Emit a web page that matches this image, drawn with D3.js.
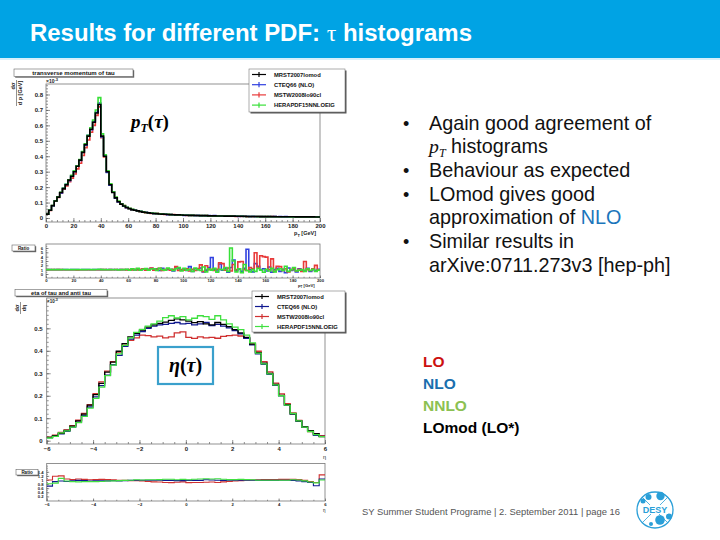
<!DOCTYPE html>
<html><head><meta charset="utf-8">
<script src="https://cdn.jsdelivr.net/npm/d3@7"></script>
<style>body{margin:0;background:#fff}svg{display:block}</style>
</head><body><svg id="c" width="720" height="540"></svg>
<script>
// ---------------- DATA ----------------
const seriesNames = ["MRST2007lomod","CTEQ66 (NLO)","MSTW2008lo90cl","HERAPDF15NNLOEIG"];
const ptRange = [0, 200];      // GeV, 2 GeV bins
const etaRange = [-6, 6];      // 0.25 bins
const ptMRST = [0.025,0.050,0.080,0.110,0.135,0.165,0.190,0.215,0.245,0.270,
0.300,0.335,0.375,0.425,0.475,0.530,0.575,0.620,0.680,0.735,
0.530,0.400,0.300,0.215,0.165,0.130,0.105,0.090,0.078,0.068,
0.060,0.054,0.050,0.046,0.042,0.038,0.036,0.033,0.031,0.029,
0.028,0.026,0.025,0.024,0.023,0.022,0.021,0.020,0.020,0.019,
0.018,0.018,0.017,0.017,0.016,0.016,0.015,0.015,0.015,0.014,
0.014,0.014,0.013,0.013,0.013,0.012,0.012,0.012,0.012,0.011,
0.011,0.011,0.011,0.010,0.010,0.010,0.010,0.010,0.009,0.009,
0.009,0.009,0.009,0.009,0.008,0.008,0.008,0.008,0.008,0.008,
0.008,0.007,0.007,0.007,0.007,0.007,0.007,0.007,0.006,0.006];
const ptCTEQ = [0.024,0.052,0.078,0.112,0.138,0.163,0.192,0.218,0.242,0.272,
0.302,0.338,0.372,0.428,0.472,0.535,0.572,0.625,0.685,0.745,
0.525,0.405,0.295,0.212,0.168,0.128,0.104,0.092,0.077,0.067,
0.061,0.053,0.051,0.045,0.043,0.037,0.037,0.032,0.032,0.028,
0.027,0.027,0.024,0.025,0.022,0.023,0.020,0.021,0.019,0.020,
0.017,0.019,0.016,0.018,0.015,0.017,0.014,0.016,0.014,0.015,
0.013,0.015,0.012,0.014,0.012,0.013,0.011,0.013,0.011,0.012,
0.010,0.012,0.010,0.011,0.009,0.011,0.009,0.010,0.009,0.010,
0.008,0.010,0.008,0.009,0.008,0.009,0.007,0.009,0.007,0.008,
0.007,0.008,0.007,0.008,0.006,0.008,0.006,0.007,0.006,0.007];
const ptMSTW = [0.025,0.049,0.079,0.108,0.133,0.160,0.186,0.208,0.235,0.258,
0.285,0.318,0.355,0.405,0.455,0.505,0.555,0.600,0.665,0.720,
0.520,0.395,0.298,0.218,0.170,0.132,0.106,0.090,0.080,0.066,
0.062,0.052,0.052,0.046,0.041,0.039,0.035,0.034,0.030,0.028,
0.029,0.026,0.026,0.023,0.024,0.021,0.022,0.019,0.021,0.018,
0.019,0.017,0.018,0.016,0.017,0.015,0.016,0.014,0.015,0.014,
0.014,0.013,0.014,0.012,0.013,0.011,0.012,0.011,0.012,0.010,
0.011,0.010,0.011,0.009,0.010,0.009,0.010,0.009,0.009,0.008,
0.009,0.008,0.009,0.008,0.008,0.007,0.008,0.007,0.008,0.007,
0.007,0.007,0.007,0.006,0.007,0.006,0.007,0.006,0.006,0.006];
const ptHERA = [0.026,0.051,0.081,0.111,0.137,0.167,0.193,0.219,0.248,0.276,
0.305,0.338,0.378,0.430,0.480,0.535,0.585,0.635,0.700,0.780,
0.545,0.410,0.305,0.222,0.170,0.135,0.110,0.092,0.080,0.070,
0.062,0.056,0.050,0.047,0.043,0.040,0.036,0.034,0.032,0.030,
0.028,0.027,0.025,0.024,0.024,0.022,0.021,0.021,0.020,0.019,
0.018,0.018,0.017,0.017,0.016,0.016,0.015,0.015,0.015,0.014,
0.014,0.014,0.013,0.013,0.013,0.012,0.012,0.012,0.011,0.011,
0.011,0.011,0.010,0.010,0.010,0.010,0.010,0.009,0.009,0.009,
0.009,0.009,0.008,0.008,0.008,0.008,0.008,0.008,0.008,0.007,
0.007,0.007,0.007,0.007,0.007,0.007,0.006,0.006,0.006,0.006];
const ratioPtCTEQ = [1.00,1.02,0.98,1.00,1.01,0.99,1.00,1.02,0.99,1.00,
1.01,1.00,0.99,1.00,1.01,1.00,0.99,1.00,1.01,1.02,
1.00,0.98,1.01,1.00,1.03,0.97,1.00,1.02,0.99,1.05,
0.95,1.08,0.96,1.10,0.92,1.15,0.90,1.10,1.30,0.90,
1.20,0.80,1.30,0.90,1.10,1.00,0.70,1.40,1.20,0.90,
1.10,0.80,1.70,0.60,1.20,1.00,1.40,0.50,0.90,1.50,
3.80,1.00,0.70,2.30,0.90,1.20,0.40,1.50,3.20,0.80,
1.10,0.60,1.30,5.70,1.00,0.50,2.40,1.80,0.90,1.20,
0.70,1.60,0.40,1.00,1.30,0.60,1.10,0.30,1.40,0.80,
1.00,0.50,1.20,0.90,0.70,1.30,0.60,1.00,0.80,1.10];
const ratioPtMSTW = [1.00,0.99,1.01,0.98,1.00,1.00,0.98,0.97,0.99,0.98,
0.97,0.96,0.97,0.98,0.97,0.98,0.99,0.97,0.98,0.99,
1.00,1.01,0.98,1.02,0.99,1.03,0.97,1.00,1.05,0.96,
1.04,0.95,1.10,0.92,1.08,1.20,0.90,1.05,1.40,0.85,
1.10,1.30,0.80,1.00,1.20,0.90,1.10,1.70,0.80,1.00,
0.90,1.20,0.70,1.10,0.80,1.20,2.10,0.60,1.90,1.00,
1.10,0.80,1.10,2.60,2.40,0.90,1.40,0.70,2.20,1.00,
2.80,2.90,1.00,0.80,1.50,1.20,4.90,1.50,4.20,4.00,
3.90,1.00,3.50,0.60,1.80,1.70,0.80,1.20,0.50,1.00,
1.30,0.70,1.10,0.60,2.90,1.00,0.80,1.20,2.00,0.90];
const ratioPtHERA = [1.02,1.00,1.01,1.02,1.00,1.01,1.03,1.02,1.01,1.00,
1.02,1.01,1.00,1.02,1.01,1.03,1.02,1.01,1.03,1.06,
1.00,1.02,0.98,1.00,0.97,1.04,0.96,1.02,1.00,1.10,
0.90,1.20,0.95,1.30,0.85,1.10,1.25,0.90,1.15,1.20,
0.80,1.30,1.00,0.90,1.40,1.10,0.80,1.20,1.50,0.70,
1.30,0.90,1.10,0.60,1.40,1.00,0.80,1.60,0.50,1.20,
0.90,1.30,0.40,1.10,1.00,1.50,0.60,6.00,3.00,0.50,
1.20,0.30,2.20,0.80,0.50,1.00,0.60,1.30,0.90,0.40,
1.10,0.70,1.30,0.50,1.00,1.20,0.80,1.80,0.60,1.00,
1.50,0.70,0.90,1.00,0.60,1.20,0.80,1.10,0.60,0.90];
const etaMRST = [0.015,0.022,0.033,0.046,0.065,0.088,0.118,0.158,0.205,0.255,0.305,0.350,
0.398,0.432,0.462,0.478,0.492,0.505,0.515,0.522,0.528,0.535,0.542,0.538,
0.532,0.525,0.530,0.520,0.515,0.526,0.518,0.508,0.494,0.480,0.460,0.430,
0.392,0.345,0.300,0.250,0.202,0.160,0.120,0.088,0.062,0.045,0.031,0.018];
const etaCTEQ = [0.014,0.021,0.030,0.042,0.060,0.083,0.112,0.150,0.195,0.245,0.292,0.338,
0.380,0.420,0.452,0.470,0.486,0.500,0.510,0.515,0.518,0.522,0.526,0.520,
0.522,0.515,0.520,0.526,0.512,0.518,0.510,0.502,0.490,0.476,0.456,0.426,
0.386,0.340,0.295,0.246,0.200,0.158,0.118,0.086,0.060,0.042,0.024,0.019];
const etaMSTW = [0.016,0.025,0.037,0.048,0.067,0.091,0.121,0.160,0.209,0.262,0.310,0.352,
0.394,0.425,0.446,0.458,0.470,0.468,0.462,0.465,0.458,0.462,0.480,0.484,
0.460,0.455,0.462,0.458,0.460,0.456,0.464,0.468,0.470,0.466,0.456,0.432,
0.398,0.352,0.306,0.256,0.208,0.165,0.124,0.090,0.061,0.041,0.027,0.022];
const etaHERA = [0.012,0.019,0.035,0.044,0.060,0.080,0.108,0.145,0.188,0.238,0.290,0.336,
0.386,0.424,0.458,0.482,0.495,0.510,0.520,0.532,0.548,0.556,0.546,0.552,
0.538,0.545,0.556,0.552,0.540,0.556,0.538,0.520,0.505,0.494,0.470,0.435,
0.390,0.342,0.297,0.248,0.200,0.158,0.121,0.088,0.060,0.041,0.027,0.018];
const ratioEtaCTEQ = [0.70,0.92,0.95,0.93,0.96,0.98,0.97,0.95,0.96,0.96,0.96,0.97,
0.96,0.97,0.98,0.99,0.99,0.99,0.99,0.99,0.98,0.98,0.97,0.97,
0.98,0.98,0.98,1.01,1.00,0.99,0.98,0.99,0.99,0.99,0.99,0.99,
0.98,0.98,0.98,0.98,0.99,0.99,0.98,0.96,0.92,0.88,0.72,1.05];
const ratioEtaMSTW = [1.00,1.18,1.20,1.05,1.02,1.05,1.03,1.01,1.02,1.03,1.02,1.01,
0.99,0.98,0.97,0.97,0.96,0.93,0.91,0.90,0.88,0.87,0.89,0.91,
0.87,0.88,0.88,0.89,0.90,0.88,0.91,0.93,0.95,0.97,0.99,1.00,
1.01,1.02,1.02,1.02,1.03,1.03,1.03,1.02,0.98,0.92,0.88,1.25];
const ratioEtaHERA = [0.82,0.85,1.08,0.95,0.92,0.91,0.92,0.92,0.92,0.93,0.95,0.96,
0.97,0.98,0.99,1.01,1.00,1.01,1.01,1.02,1.04,1.04,1.01,1.03,
1.01,1.04,1.05,1.06,1.05,1.06,1.04,1.02,1.02,1.03,1.02,1.01,
0.99,0.99,0.99,0.99,0.99,0.99,1.01,1.00,0.96,0.90,0.86,1.00];
const ptXTicks = [0,20,40,60,80,100,120,140,160,180,200];
const ptYTicks = [0,0.1,0.2,0.3,0.4,0.5,0.6,0.7,0.8];
const ratioPtYTicks = [0,1,2,3,4,5,6];
const etaXTicks = [-6,-4,-2,0,2,4,6];
const etaYTicks = [0,0.1,0.2,0.3,0.4,0.5];
const ratioEtaYTicks = [0.2,0.4,0.6,0.8,1,1.2,1.4];
const bullets = [["•","Again good agreement of"],["","@pT histograms"],["•","Behaviour as expected"],["•","LOmod gives good"],["","approximation of @NLO"],["•","Similar results in"],["","arXive:0711.273v3 [hep-ph]"]];
const orderLabels = [["LO","#cc1010"],["NLO","#1a6fae"],["NNLO","#8cc152"],["LOmod (LO*)","#000000"]];

// ---------------- DRAW ----------------
const svg = d3.select("#c");
const SANS = "Liberation Sans, Arial, sans-serif";
const SERIF = "Liberation Serif, Times New Roman, serif";
const defs = svg.append("defs");

svg.append("rect").attr("width",720).attr("height",58).attr("fill","#00a3e4");
svg.append("rect").attr("y",58).attr("width",720).attr("height",2).attr("fill","#d6f0fb");
const tt = svg.append("text").attr("x",30).attr("y",41).attr("fill","#fff")
  .attr("font-family",SANS).attr("font-weight","bold").attr("font-size",23)
  .attr("textLength",442).attr("lengthAdjust","spacingAndGlyphs");
tt.append("tspan").text("Results for different PDF: ");
tt.append("tspan").attr("font-family",SERIF).attr("font-weight","normal").text("τ");
tt.append("tspan").text(" histograms");

let clipId = 0;
function panel(opt){
  const {x, y, xMajor, xMinor, yMajor, yMinor, fs, tl, fmtX, fmtY, xPad, yPad} = opt;
  const [x0,x1] = x.range(), [yb,yt] = y.range();
  const gx = svg.append("g").attr("transform",`translate(0,${yb})`)
    .call(d3.axisBottom(x).tickValues(xMajor).tickSize(-tl).tickPadding(xPad).tickFormat(fmtX));
  svg.append("g").attr("transform",`translate(0,${yb})`)
    .call(d3.axisBottom(x).tickValues(xMinor).tickSize(-tl/2).tickFormat(""));
  const gy = svg.append("g").attr("transform",`translate(${x0},0)`)
    .call(d3.axisLeft(y).tickValues(yMajor).tickSize(-tl).tickPadding(yPad).tickFormat(fmtY));
  svg.append("g").attr("transform",`translate(${x0},0)`)
    .call(d3.axisLeft(y).tickValues(yMinor).tickSize(-tl/2).tickFormat(""));
  svg.selectAll(".domain").remove();
  svg.selectAll(".tick line").attr("stroke","#444").attr("stroke-width",0.6);
  gx.selectAll("text").attr("font-family",SANS).attr("font-weight","bold").attr("font-size",fs).attr("fill","#222");
  gy.selectAll("text").attr("font-family",SANS).attr("font-weight","bold").attr("font-size",fs).attr("fill","#222");
  svg.append("rect").attr("x",x0).attr("y",yt).attr("width",x1-x0).attr("height",yb-yt)
    .attr("fill","none").attr("stroke","#777").attr("stroke-width",0.8);
  const id = "clip"+(clipId++);
  defs.append("clipPath").attr("id",id).append("rect").attr("x",x0).attr("y",yt).attr("width",x1-x0).attr("height",yb-yt);
  return svg.append("g").attr("clip-path",`url(#${id})`);
}
function steps(g, vals, lo, hi, x, y, color, w){
  const bw = (hi-lo)/vals.length;
  const pts = vals.map((v,i)=>[lo+i*bw, v]);
  pts.push([hi, vals[vals.length-1]]);
  g.append("path").attr("d", d3.line().x(d=>x(d[0])).y(d=>y(d[1])).curve(d3.curveStepAfter)(pts))
    .attr("fill","none").attr("stroke",color).attr("stroke-width",w);
}
function titleBox(x0,y0,w,h,txt,fs){
  svg.append("rect").attr("x",x0+1.2).attr("y",y0+1.2).attr("width",w).attr("height",h).attr("fill","#666");
  svg.append("rect").attr("x",x0).attr("y",y0).attr("width",w).attr("height",h).attr("fill","#fff").attr("stroke","#666").attr("stroke-width",0.6);
  svg.append("text").attr("x",x0+w/2).attr("y",y0+h/2+fs*0.36).attr("text-anchor","middle")
    .attr("font-family",SANS).attr("font-weight","bold").attr("font-size",fs).attr("fill","#111").text(txt);
}
function legend(x0,y0,w,h,colors,step){
  svg.append("rect").attr("x",x0+1.5).attr("y",y0+1.5).attr("width",w).attr("height",h).attr("fill","#555");
  svg.append("rect").attr("x",x0).attr("y",y0).attr("width",w).attr("height",h).attr("fill","#fff").attr("stroke","#777").attr("stroke-width",0.6);
  seriesNames.forEach((n,i)=>{
    const yy = y0+5.5+i*step;
    svg.append("line").attr("x1",x0+3).attr("x2",x0+17).attr("y1",yy).attr("y2",yy).attr("stroke",colors[i]).attr("stroke-width",1.2);
    svg.append("line").attr("x1",x0+10).attr("x2",x0+10).attr("y1",yy-2.6).attr("y2",yy+2.6).attr("stroke",colors[i]).attr("stroke-width",1.2);
    svg.append("text").attr("x",x0+25).attr("y",yy+2).attr("font-family",SANS).attr("font-weight","bold")
      .attr("font-size",5.8).attr("fill","#111").text(n);
  });
}
function rotLabel(x0,yc,parts,fs){
  svg.append("text").attr("transform",`translate(${x0},${yc}) rotate(-90)`).attr("text-anchor","middle")
    .attr("font-family",SANS).attr("font-weight","bold").attr("font-size",fs).attr("fill","#222").text(parts);
}
const fmt1 = d3.format(".1f");

// ---- pT main ----
const ptColors = ["#000000","#3040e0","#e83a3a","#38e038"];
const xPt = d3.scaleLinear().domain(ptRange).range([46,320]);
const yPt = d3.scaleLinear().domain([-0.026,0.868]).range([222,84]);
const gPt = panel({x:xPt,y:yPt,xMajor:ptXTicks,xMinor:d3.range(0,201,4),yMajor:ptYTicks,yMinor:d3.range(0,0.861,0.02),
  fs:6,tl:4,fmtX:d3.format("d"),fmtY:d=>d===0?"0":fmt1(d),xPad:2,yPad:3});
[[ptMSTW,2],[ptCTEQ,1],[ptHERA,3],[ptMRST,0]].forEach(([v,i])=>steps(gPt,v,ptRange[0],ptRange[1],xPt,yPt,ptColors[i],1.6));
titleBox(14,69,119,7.5,"transverse momentum of tau",6);
legend(249,69,96,43,ptColors,10.2);
svg.append("text").attr("x",46).attr("y",83).attr("font-family",SANS).attr("font-weight","bold").attr("font-size",5).attr("fill","#222")
  .text("×10").append("tspan").attr("dy",-2).attr("font-size",4).text("-3");
rotLabel(15,86,"dσ",5.5);
svg.append("line").attr("x1",16.5).attr("x2",16.5).attr("y1",80).attr("y2",106).attr("stroke","#222").attr("stroke-width",0.5);
rotLabel(22,93,"d p  [GeV]",5.5);
const ptLabX = svg.append("text").attr("x",294).attr("y",235).attr("font-family",SANS).attr("font-weight","bold").attr("font-size",5.5).attr("fill","#222").text("p");
ptLabX.append("tspan").attr("dy",1.5).attr("font-size",4).text("T");
ptLabX.append("tspan").attr("dy",-1.5).text(" [GeV]");
const pTl = svg.append("text").attr("x",131).attr("y",128).attr("font-family",SERIF).attr("font-weight","bold").attr("font-size",19).attr("fill","#000");
pTl.append("tspan").attr("font-style","italic").text("p");
pTl.append("tspan").attr("font-style","italic").attr("font-size",12).attr("dy",4).text("T");
pTl.append("tspan").attr("dy",-4).text("(");
pTl.append("tspan").attr("font-style","italic").text("τ");
pTl.append("tspan").text(")");

// ---- pT ratio ----
const yRp = d3.scaleLinear().domain([-0.92,6.92]).range([278,244]);
const gRp = panel({x:xPt,y:yRp,xMajor:ptXTicks,xMinor:d3.range(0,201,4),yMajor:ratioPtYTicks,yMinor:d3.range(0,6.6,0.5),
  fs:4.2,tl:2.5,fmtX:d3.format("d"),fmtY:d3.format("d"),xPad:1.5,yPad:3});
[[ratioPtCTEQ,1],[ratioPtMSTW,2],[ratioPtHERA,3]].forEach(([v,i])=>steps(gRp,v,ptRange[0],ptRange[1],xPt,yRp,ptColors[i],1.6));
titleBox(12,245,23,6,"Ratio",4.5);
const rl = svg.append("text").attr("x",298).attr("y",287).attr("font-family",SANS).attr("font-weight","bold").attr("font-size",4.2).attr("fill","#222").text("p");
rl.append("tspan").attr("dy",1).attr("font-size",3).text("T");
rl.append("tspan").attr("dy",-1).text(" [GeV]");

// ---- eta main ----
const etaColors = ["#000000","#101890","#d03030","#40e040"];
const xEta = d3.scaleLinear().domain(etaRange).range([46.7,325]);
const yEta = d3.scaleLinear().domain([-0.0147,0.635]).range([444,298]);
const gEta = panel({x:xEta,y:yEta,xMajor:etaXTicks,xMinor:d3.range(-6,6.01,0.5),yMajor:etaYTicks,yMinor:d3.range(0,0.631,0.02),
  fs:6,tl:4,fmtX:d3.format("d"),fmtY:d=>d===0?"0":fmt1(d),xPad:2.5,yPad:4});
[[etaMSTW,2],[etaCTEQ,1],[etaMRST,0],[etaHERA,3]].forEach(([v,i])=>steps(gEta,v,etaRange[0],etaRange[1],xEta,yEta,etaColors[i],1.3));
titleBox(15,289.5,92,6.5,"eta of tau and anti tau",5.8);
legend(252,291,93,41,etaColors,10);
svg.append("text").attr("x",47).attr("y",303).attr("font-family",SANS).attr("font-weight","bold").attr("font-size",4.5).attr("fill","#222")
  .text("×10").append("tspan").attr("dy",-1.8).attr("font-size",3.6).text("-3");
rotLabel(19,308,"dσ",5.5);
svg.append("line").attr("x1",20.5).attr("x2",20.5).attr("y1",302).attr("y2",314).attr("stroke","#222").attr("stroke-width",0.5);
rotLabel(26,308,"dη",5.5);
svg.append("text").attr("x",323).attr("y",459).attr("font-family",SANS).attr("font-size",5.5).attr("fill","#222").text("η");
svg.append("rect").attr("x",158).attr("y",347).attr("width",55).attr("height",37).attr("fill","#fff").attr("stroke","#3aa0cc").attr("stroke-width",2.2);
const et = svg.append("text").attr("x",185.5).attr("y",372).attr("text-anchor","middle").attr("font-family",SERIF).attr("font-weight","bold").attr("font-size",20).attr("fill","#000");
et.append("tspan").attr("font-style","italic").text("η");
et.append("tspan").text("(");
et.append("tspan").attr("font-style","italic").text("τ");
et.append("tspan").text(")");

// ---- eta ratio ----
const yRe = d3.scaleLinear().domain([-0.024,1.805]).range([501,463.5]);
const gRe = panel({x:xEta,y:yRe,xMajor:etaXTicks,xMinor:d3.range(-6,6.01,0.5),yMajor:ratioEtaYTicks,yMinor:d3.range(0.1,1.75,0.1),
  fs:4.2,tl:2.5,fmtX:d3.format("d"),fmtY:d=>String(+d.toFixed(1)),xPad:1.8,yPad:3});
[[ratioEtaMSTW,2],[ratioEtaCTEQ,1],[ratioEtaHERA,3]].forEach(([v,i])=>steps(gRe,v,etaRange[0],etaRange[1],xEta,yRe,etaColors[i],1.1));
titleBox(16,469.5,22,5.5,"Ratio",4.5);
svg.append("text").attr("x",323).attr("y",512).attr("font-family",SANS).attr("font-size",4.5).attr("fill","#222").text("η");

// ---- right side text ----
bullets.forEach(([b,t],i)=>{
  const yy = 129.5 + i*23.7;
  if(b) svg.append("text").attr("x",403).attr("y",yy).attr("font-family",SANS).attr("font-size",18).attr("fill","#111").text(b);
  const tx = svg.append("text").attr("x",429).attr("y",yy).attr("font-family",SANS).attr("font-size",19.8).attr("fill","#111");
  if(t.startsWith("@pT")){
    tx.append("tspan").attr("font-family",SERIF).attr("font-style","italic").text("p");
    tx.append("tspan").attr("font-family",SERIF).attr("font-style","italic").attr("font-size",12).attr("dy",4).text("T");
    tx.append("tspan").attr("dy",-4).text(" histograms");
  } else if(t.includes("@")){
    const [a,c] = t.split("@");
    tx.append("tspan").text(a);
    tx.append("tspan").attr("fill","#1b75bb").text(c);
  } else tx.text(t);
});
orderLabels.forEach(([t,c],i)=>{
  svg.append("text").attr("x",423).attr("y",367+i*22).attr("font-family",SANS).attr("font-weight","bold")
    .attr("font-size",15.5).attr("fill",c).text(t);
});

// ---- footer ----
svg.append("text").attr("x",362).attr("y",514.5).attr("font-family",SANS).attr("font-size",9).attr("fill","#555")
  .attr("textLength",258).attr("lengthAdjust","spacingAndGlyphs")
  .text("SY Summer Student Programe  |  2. September 2011  |  page 16");
const logo = svg.append("g").attr("transform","translate(655,510)");
logo.append("circle").attr("r",18).attr("fill","#fff").attr("stroke","#2a9fd8").attr("stroke-width",1.3);
logo.append("line").attr("x1",-13).attr("y1",13).attr("x2",13).attr("y2",-13).attr("stroke","#2a9fd8").attr("stroke-width",0.8);
logo.append("line").attr("x1",-13).attr("y1",-13).attr("x2",13).attr("y2",13).attr("stroke","#2a9fd8").attr("stroke-width",0.8);
[[5.5,-14,4.2],[-6.5,-13,3],[-12,-9,2.5],[5,10,4.8],[14,6.5,3],[-4,14,2]].forEach(([cx,cy,r])=>
  logo.append("circle").attr("cx",cx).attr("cy",cy).attr("r",r).attr("fill","#2a9fd8"));
logo.append("rect").attr("x",-13).attr("y",-5).attr("width",26).attr("height",9).attr("fill","#fff");
logo.append("text").attr("y",3).attr("text-anchor","middle").attr("font-family",SANS).attr("font-weight","bold").attr("font-size",9).attr("fill","#2a9fd8").text("DESY");
</script></body></html>
